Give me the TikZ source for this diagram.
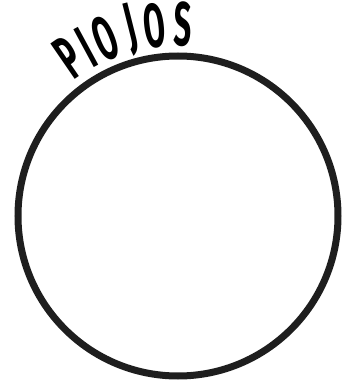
\documentclass[tikz,border=0pt]{standalone}
\usepackage{fontspec}
\setmainfont{Fira Sans}
\definecolor{trazo}{HTML}{1E1E1E}
\tikzset{
  aro/.style={circle, draw=trazo, line width=7pt, minimum size=320pt, inner sep=0pt},
  letra/.style={inner sep=0pt, font=\fontsize{62}{62}\selectfont\bfseries}
}
\begin{document}
\begin{tikzpicture}[x=1pt,y=1pt]
	% Marco de la imagen
	\useasboundingbox (0,0) rectangle (343,386);
	
	% Circulo principal
	\node[aro] (ring) at (178,170) {};
	
	% Titulo curvado sobre el circulo
	\foreach \ang/\letra [count=\i] in {124.5/P, 118.4/I, 112.4/O, 104.1/J, 97.1/O, 88.5/S}
		\node[letra, rotate=\ang-90] (t\i) at ([shift={(\ang:192)}]ring.center) {\scalebox{0.5}[1]{\letra}};
\end{tikzpicture}
\end{document}
